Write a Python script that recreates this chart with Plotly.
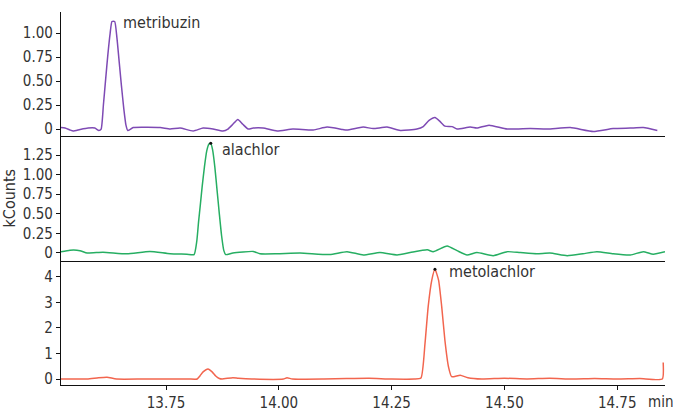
import plotly.graph_objects as go
from plotly.subplots import make_subplots

# ---------------- data ----------------
metribuzin_t = [13.517, 13.526, 13.537, 13.544, 13.559, 13.577, 13.592, 13.601, 13.606, 13.611,
                13.616, 13.621, 13.626, 13.630, 13.636, 13.641, 13.646, 13.651, 13.656, 13.661,
                13.665, 13.677, 13.703, 13.737, 13.759, 13.781, 13.810, 13.832, 13.854, 13.876,
                13.887, 13.898, 13.909, 13.920, 13.932, 13.943, 13.965, 13.996, 14.031, 14.076,
                14.107, 14.142, 14.151, 14.187, 14.209, 14.240, 14.269, 14.306, 14.320, 14.333,
                14.346, 14.357, 14.368, 14.384, 14.395, 14.424, 14.439, 14.466, 14.506, 14.557,
                14.595, 14.646, 14.697, 14.741, 14.779, 14.808, 14.839]
metribuzin_v = [0.015, 0.010, -0.010, -0.020, -0.005, 0.010, 0.010, -0.015, 0.000, 0.25,
                0.52, 0.78, 1.00, 1.12, 1.12, 0.95, 0.70, 0.45, 0.22, 0.04,
                -0.015, 0.015, 0.018, 0.015, 0.000, 0.010, -0.020, 0.010, 0.000, -0.020,
                0.000, 0.050, 0.100, 0.050, 0.000, 0.010, 0.010, -0.020, 0.000, -0.010,
                0.020, -0.005, -0.010, 0.020, 0.005, 0.020, -0.015, 0.000, 0.025, 0.090,
                0.120, 0.080, 0.030, 0.025, 0.000, 0.020, 0.010, 0.040, 0.000, 0.005,
                0.000, 0.015, -0.025, 0.005, 0.010, 0.015, -0.015]

alachlor_t = [13.517, 13.537, 13.559, 13.575, 13.610, 13.663, 13.714, 13.759, 13.796, 13.812,
              13.818, 13.822, 13.826, 13.830, 13.835, 13.840, 13.845, 13.849, 13.853, 13.858,
              13.863, 13.868, 13.873, 13.878, 13.882, 13.898, 13.943, 13.958, 13.996, 14.047,
              14.113, 14.151, 14.187, 14.224, 14.262, 14.291, 14.329, 14.342, 14.373, 14.395,
              14.417, 14.439, 14.475, 14.506, 14.535, 14.572, 14.601, 14.639, 14.674, 14.705,
              14.741, 14.779, 14.808, 14.830, 14.856]
alachlor_v = [0.015, 0.035, 0.030, 0.000, 0.010, -0.010, 0.020, -0.010, -0.015, -0.020,
              0.15, 0.40, 0.62, 0.85, 1.10, 1.30, 1.39, 1.40, 1.32, 1.10,
              0.80, 0.50, 0.22, 0.03, -0.020, 0.000, 0.020, -0.010, -0.010, 0.000,
              -0.020, 0.017, -0.025, 0.005, -0.025, 0.005, 0.040, 0.017, 0.090, 0.030,
              -0.025, 0.005, -0.035, 0.017, 0.005, -0.010, 0.000, -0.035, -0.010, 0.017,
              -0.010, -0.025, 0.017, -0.015, 0.017]

metolachlor_t = [13.517, 13.575, 13.600, 13.619, 13.640, 13.700, 13.760, 13.800, 13.819, 13.825,
                 13.832, 13.843, 13.852, 13.860, 13.868, 13.874, 13.898, 13.910, 13.940, 14.010,
                 14.018, 14.030, 14.100, 14.150, 14.200, 14.250, 14.300, 14.315, 14.324, 14.331,
                 14.339, 14.346, 14.354, 14.361, 14.368, 14.376, 14.383, 14.402, 14.419, 14.450,
                 14.500, 14.550, 14.600, 14.650, 14.700, 14.750, 14.800, 14.850, 14.852]
metolachlor_v = [0.0, 0.0, 0.05, 0.07, 0.0, 0.0, 0.0, 0.0, 0.0, 0.12,
                 0.28, 0.39, 0.28, 0.12, 0.02, 0.0, 0.05, 0.03, 0.0, 0.0,
                 0.05, 0.0, 0.0, 0.02, 0.03, 0.0, 0.0, 0.04, 1.40, 2.84,
                 3.88, 4.30, 3.88, 2.84, 1.53, 0.48, 0.09, 0.15, 0.05, 0.0,
                 0.03, 0.0, 0.03, 0.0, 0.02, 0.0, 0.02, 0.0, 0.65]

x_ticks = [13.75, 14.00, 14.25, 14.50, 14.75]
y1_ticks = [0, 0.25, 0.50, 0.75, 1.00]
y2_ticks = [0, 0.25, 0.50, 0.75, 1.00, 1.25]
y3_ticks = [0, 1, 2, 3, 4]

series = [
    ("metribuzin", metribuzin_t, metribuzin_v, "#7E4AB4", y1_ticks, [-0.076, 1.219], 9, -1, False),
    ("alachlor", alachlor_t, alachlor_v, "#26AE62", y2_ticks, [-0.098, 1.489], 9, -6, True),
    ("metolachlor", metolachlor_t, metolachlor_v, "#F2654E", y3_ticks, [-0.235, 4.64], 12, -2, True),
]

FONT = "DejaVu Sans Condensed, Liberation Sans Narrow, sans-serif"
TXT = "#333333"

fig = make_subplots(rows=3, cols=1, shared_xaxes=True, vertical_spacing=0)

for i, (name, t, v, col, ticks, yr, xs, ys, apex) in enumerate(series, start=1):
    fig.add_trace(go.Scatter(x=t, y=v, mode="lines",
                             line=dict(color=col, width=1.5, shape="spline", smoothing=0.5),
                             hoverinfo="skip", showlegend=False), row=i, col=1)
    k = max(range(len(v)), key=lambda j: v[j] if t[j] < 14.84 else -1)
    if apex:
        fig.add_trace(go.Scatter(x=[t[k]], y=[v[k]], mode="markers",
                                 marker=dict(color="#111111", size=3),
                                 hoverinfo="skip", showlegend=False), row=i, col=1)
    fig.add_annotation(x=t[k], y=v[k], text=name, showarrow=False, xanchor="left",
                       yanchor="middle", xshift=xs, yshift=ys,
                       font=dict(family=FONT, size=16, color=TXT), row=i, col=1)
    fig.update_yaxes(range=yr, tickvals=ticks, automargin=False,
                     ticktext=[("%.2f" % tv if name != "metolachlor" else "%d" % tv) if tv != 0 else "0" for tv in ticks],
                     showline=True, linecolor="#111111", linewidth=1.2, ticks="outside",
                     ticklen=4, tickcolor="#111111", showgrid=False, zeroline=False,
                     tickfont=dict(family=FONT, size=15, color=TXT), row=i, col=1)
    fig.update_xaxes(range=[13.517, 14.856], showline=True, linecolor="#111111", linewidth=1.2,
                     showgrid=False, zeroline=False, automargin=False, row=i, col=1)

fig.update_xaxes(tickvals=x_ticks, ticktext=["%.2f" % x for x in x_ticks], ticks="outside",
                 ticklen=4, tickcolor="#111111", showticklabels=True,
                 tickfont=dict(family=FONT, size=15, color=TXT), row=3, col=1)

# y-axis title "kCounts" beside the middle panel
fig.add_annotation(xref="paper", yref="y2 domain", x=0, y=0.5, text="kCounts", showarrow=False,
                   textangle=-90, xanchor="center", yanchor="middle", xshift=-52,
                   font=dict(family=FONT, size=16, color=TXT))

fig.add_annotation(xref="paper", yref="paper", x=1, y=0, text="min", showarrow=False,
                   xanchor="left", yanchor="top", xshift=-19, yshift=-6,
                   font=dict(family=FONT, size=15, color=TXT))

fig.update_layout(width=673, height=411, margin=dict(l=61, r=8, t=12, b=26),
                  paper_bgcolor="white", plot_bgcolor="white")

fig.write_html("out.html", config={"displayModeBar": False},
               post_script="document.body.style.margin='0';")
